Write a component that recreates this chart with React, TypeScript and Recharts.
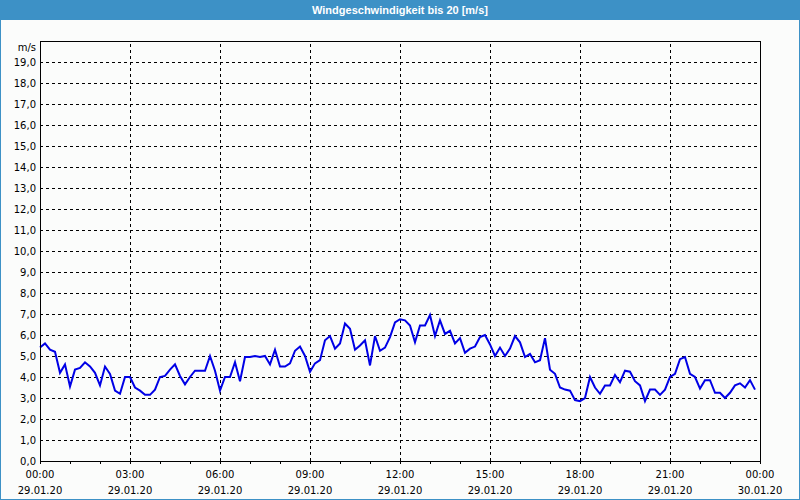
import React from "react";
import {
  LineChart,
  Line,
  XAxis,
  YAxis,
  CartesianGrid,
  ReferenceLine,
} from "recharts";

// wind speed every 10 minutes, 29.01.20 00:00 .. 23:50
const speeds = [
  5.4, 5.6, 5.3, 5.2, 4.2, 4.6, 3.55, 4.35, 4.43, 4.7, 4.5, 4.2, 3.6, 4.5, 4.15,
  3.35, 3.2, 4.0, 4.0, 3.5, 3.35, 3.15, 3.15, 3.4, 4.0, 4.05, 4.35, 4.6, 4.05,
  3.65, 4.0, 4.3, 4.3, 4.3, 5.0, 4.3, 3.35,
  4.0, 4.0, 4.7, 3.8, 4.95, 4.95, 5.0, 4.95, 5.0, 4.6, 5.3, 4.5, 4.5, 4.65,
  5.25, 5.45, 5.0, 4.25, 4.65, 4.8, 5.75, 5.95, 5.35, 5.6, 6.55, 6.3, 5.3, 5.5,
  5.75, 4.55, 5.95, 5.25, 5.4, 5.9, 6.6, 6.75,
  6.7, 6.45, 5.65, 6.45, 6.45, 6.95, 5.95, 6.7, 6.05, 6.2, 5.6, 5.85, 5.15,
  5.35, 5.45, 5.9, 6.0, 5.55, 5.0, 5.4, 5.0, 5.35, 5.95, 5.65, 4.95, 5.1, 4.7,
  4.8, 5.85, 4.35, 4.15, 3.5, 3.4, 3.35, 2.9, 2.85,
  3.0, 4.0, 3.5, 3.2, 3.6, 3.6, 4.1, 3.75, 4.3, 4.25, 3.8, 3.6, 2.85, 3.4, 3.4,
  3.15, 3.4, 4.0, 4.15, 4.85, 4.95, 4.15, 4.0, 3.45, 3.85, 3.85, 3.25, 3.25,
  3.0, 3.25, 3.6, 3.7, 3.5, 3.85, 3.4,
];

const hourTicks = [
  0, 1, 2, 3, 4, 5, 6, 7, 8, 9, 10, 11, 12, 13, 14, 15, 16, 17, 18, 19, 20, 21,
  22, 23, 24,
];
const timeLabels = ["00:00", "03:00", "06:00", "09:00", "12:00", "15:00", "18:00", "21:00", "00:00"];
const dateLabels = ["29.01.20", "29.01.20", "29.01.20", "29.01.20", "29.01.20", "29.01.20", "29.01.20", "29.01.20", "30.01.20"];
const gridHours = [3, 6, 9, 12, 15, 18, 21];
const yTicks = [0, 1, 2, 3, 4, 5, 6, 7, 8, 9, 10, 11, 12, 13, 14, 15, 16, 17, 18, 19, 20];

const data = speeds.map((v, i) => ({ t: i / 6, v }));

const FONT = "'DejaVu Sans', sans-serif";

const XTick = (props: any) => {
  const { x, y, payload } = props;
  const h = payload.value;
  if (h % 3 !== 0) return <g />;
  const k = h / 3;
  return (
    <g>
      <text x={x} y={y + 12} textAnchor="middle" fill="#000" fontSize={10} fontFamily={FONT}>
        {timeLabels[k]}
      </text>
      <text x={x} y={y + 28} textAnchor="middle" fill="#000" fontSize={10} fontFamily={FONT}>
        {dateLabels[k]}
      </text>
    </g>
  );
};

const YTick = (props: any) => {
  const { y, payload } = props;
  const v = payload.value;
  const label = v === 20 ? "m/s" : v.toFixed(1).replace(".", ",");
  return (
    <text
      x={36}
      y={v === 20 ? y + 10 : y + 4}
      textAnchor="end"
      fill="#000"
      fontSize={10}
      fontFamily={FONT}
    >
      {label}
    </text>
  );
};

export default function App() {
  return (
    <div
      style={{
        position: "fixed",
        left: 0,
        top: 0,
        width: 800,
        height: 500,
        background: "#fbfcfb",
        overflow: "hidden",
      }}
    >
      <div
        style={{
          position: "absolute",
          left: 0,
          top: 0,
          width: 800,
          height: 20,
          background: "#3d91c6",
          color: "#fff",
          fontFamily: "'Liberation Sans', sans-serif",
          fontWeight: "bold",
          fontSize: 11,
          lineHeight: "20px",
          textAlign: "center",
        }}
      >
        Windgeschwindigkeit bis 20 [m/s]
      </div>
      <div style={{ position: "absolute", left: 0, top: 0 }}>
        <LineChart
          width={800}
          height={500}
          data={data}
          margin={{ top: 41, right: 40, bottom: 0, left: 0 }}
        >
          <CartesianGrid
            vertical={false}
            stroke="#000"
            strokeDasharray="3 3"
            shapeRendering="crispEdges"
          />
          {gridHours.map((h) => (
            <ReferenceLine
              key={h}
              x={h}
              stroke="#000"
              strokeDasharray="3 3"
              shapeRendering="crispEdges"
            />
          ))}
          <ReferenceLine y={20} stroke="#000" shapeRendering="crispEdges" />
          <ReferenceLine x={24} stroke="#000" shapeRendering="crispEdges" />
          <XAxis
            dataKey="t"
            type="number"
            domain={[0, 24]}
            ticks={hourTicks}
            interval={0}
            height={39}
            tickSize={3}
            tickMargin={2}
            axisLine={{ stroke: "#000", shapeRendering: "crispEdges" }}
            tickLine={{ stroke: "#000", shapeRendering: "crispEdges" }}
            tick={<XTick />}
          />
          <YAxis
            type="number"
            domain={[0, 20]}
            ticks={yTicks}
            interval={0}
            width={40}
            axisLine={{ stroke: "#000", shapeRendering: "crispEdges" }}
            tickLine={false}
            tick={<YTick />}
          />
          <Line
            dataKey="v"
            type="linear"
            stroke="#0000e6"
            strokeWidth={2}
            dot={false}
            isAnimationActive={false}
          />
        </LineChart>
      </div>
      <div
        style={{
          position: "absolute",
          left: 0,
          top: 0,
          width: 800,
          height: 500,
          boxSizing: "border-box",
          border: "1px solid #3d91c6",
          pointerEvents: "none",
        }}
      />
    </div>
  );
}
